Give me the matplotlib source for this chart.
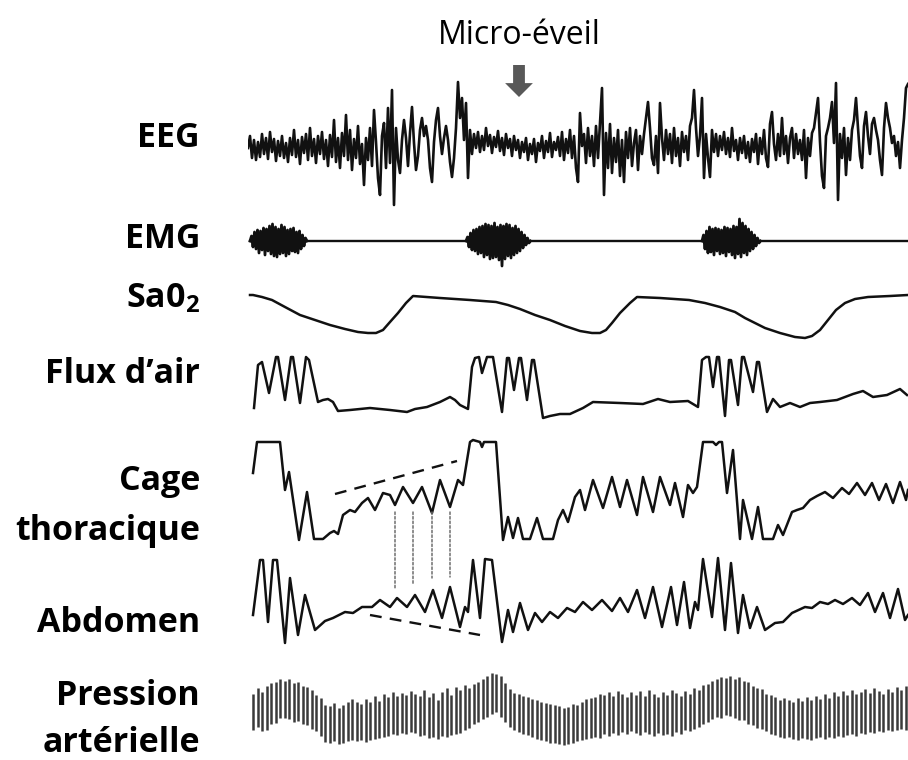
#!/usr/bin/env python3
# -*- coding: utf-8 -*-
"""
Polysomnographie : micro-eveil en fin d'apnee obstructive
Traces schematiques relevees sur la figure d'origine
"""

import numpy as np
import matplotlib
matplotlib.use("Agg")
import matplotlib.pyplot as plt
from matplotlib.patches import ConnectionPatch

# ---------------------------------------------------------------
# Donnees (temps en echantillons, amplitudes en unites arbitraires)
# ---------------------------------------------------------------

# EEG, un point tous les 2 echantillons
eeg = [0, 12, -10, 8, -12, 6, -9, 14, -6, 10,
       -11, 16, -4, 9, -13, 7, -8, 12, -10, 5,
       -14, 10, -7, 18, -9, 8, -16, 11, -5, 14,
       -12, 20, -8, 9, -15, 12, -6, 16, -11, 8,
       -18, 13,
       -9, 28, -14, 10, -20, 15, -8, 33, -12, 18, -22, 9, -10, 22, -16,
       4, -37, 10, -12, 20, -18, 38, 6, -30, -47, 12, 25, -20, 40, -15, 58, -57, 20, -12, -25,
       8, 28, 10, -18, 15, 41, 5, -22, -8, 18, 30, 12, 22, 8, -20, -34, 6, 28, 40, 12,
       -6, 10, 22, 8, -14, -29, -10, 20, 66, 30, 50, 8, 45, -30,
       18, -6, 14, 0, 16, -4, 12, -2, 20, 2,
       13, -5, 11, 1, 17, -3, 10, -7, 14, 0,
       9, -8, 12, -2, 8, -10, 6, -4, 10, -12,
       4, -6, 9, -14, 5, -3, 12, -10, 7, -4,
       15, -9, 6, -2, 11, -8,
       16, -12, 9, -5, 18, -10, 12, -20, -34, 35, 2, 14, -15, 20, -8, 12, -18, 22, -10, 25, 60, -47,
       15, -20, 24, -25, 10, -14, 18, -28, 8, -34, 16, -10, 20, -18, 5, 18, -22, 12, -6, 14,
       30, 46, 20, -10, -17, 12, -25, 45,
       10, -12, 18, -6, 14, -15, 20, -8, 10, -18, 16, -4, 12, -12, 22, 30, 58, 20, -8, 12,
       50, -30, 14, -10, -29, 18,
       -4, 14, -8, 12, -2, 16, -6, 10, -9, 20,
       -3, 8, -12, 10, -5, 12, -10, 6, -14, 9,
       -4, 14, -16, 10, -6, 18, -10, -19, 24,
       36, 4, -12, 14, -8, 30, -6, 12, -15, 10, 20, -10, 14, -6, 8,
       -12, 18, -30, 10, -8, 15, 20, 35, 50, 6, -28, -40, 12, 20, 30, 46, 5, 65, -52, 14,
       -10, 20, -27, 10, -12, 18, 28, 50, 20, -8, -20, 22, 36, 12, -6,
       24, 30, 18, 8, -12, -27, 20, 45, 30, 20, 5, 12, -8, 6, -20, 8, 30, 60, 64]

# EMG : trois bouffees d'activite sur une ligne de base plate
emg_debut = [2, 218, 454]
emg_bouffee1 = [0, 5, -6, 9, -8, 11, -12, 10, -9, 13, -14, 12, -10, 15, -13, 17, -15, 14, -16, 12,
                -13, 16, -12, 14, -15, 11, -13, 12, -10, 13, -11, 9, -12, 10, -8, 6, -5, 3, 0]
emg_bouffee2 = [0, 4, -6, 8, -9, 11, -10, 12, -13, 14, -12, 15, -16, 17, -14, 16, -18, 15, -17, 18,
                -16, 14, -19, 16, -25, 15, -18, 17, -15, 16, -17, 13, -14, 15, -12, 12, -10, 9, -7, 6,
                -4, 3, -2, 0]
emg_bouffee3 = [0, 6, -8, 10, -12, 14, -11, 12, -14, 13, -10, 12, -13, 11, -12, 14, -15, 13, -11, 12,
                -14, 15, -17, 14, -13, 22, -16, 18, -12, 15, -14, 12, -10, 9, -8, 6, -5, 3, -2, 0]

# Saturation
sao2_t = [2, 5, 14, 24, 37, 52, 67, 82, 97, 110, 120, 128, 135, 142, 150, 158, 165, 192, 222, 248,
          260, 272, 287, 302, 317, 332, 344, 352, 358, 364, 372, 382, 389, 412, 441, 457, 472, 487,
          497, 507, 517, 532, 547, 557, 564, 572, 580, 588, 597, 607, 620, 642, 660]
sao2 = [45, 45, 43, 40, 33, 25, 20, 15, 11, 8, 7, 7, 10, 18, 27, 37, 44, 42, 40, 38,
        35, 31, 25, 20, 14, 9, 7, 7, 10, 17, 27, 37, 43, 42, 40, 37, 33, 28,
        22, 17, 12, 7, 3, 2, 4, 10, 20, 30, 37, 41, 43, 44, 45]

# Flux d'air
flux_t = [6, 10, 14, 21, 28, 30, 37, 43, 45, 52, 58, 61, 70, 75, 80, 85, 90, 102, 122, 142,
          159, 167, 179, 192, 202, 207, 212, 220, 224, 227, 231, 234, 239, 245, 254, 259, 261, 266,
          271, 273, 279, 284, 286, 295, 302, 312, 322, 335, 345, 372, 395, 410, 422, 440, 450,
          454, 458, 461, 465, 469, 471, 477, 481, 483, 490, 494, 496, 505, 509, 511, 519, 525,
          532, 542, 552, 562, 572, 589, 605, 615, 625, 639, 652, 659]
flux = [12, 55, 58, 27, 63, 63, 20, 63, 63, 17, 63, 60, 18, 20, 21, 18, 9, 10, 12, 10,
        8, 11, 13, 18, 23, 20, 15, 11, 53, 62, 63, 47, 63, 63, 8, 62, 62, 30,
        62, 62, 20, 60, 60, 2, 4, 6, 6, 12, 18, 17, 16, 21, 18, 19, 13,
        60, 63, 63, 33, 63, 63, 4, 60, 60, 15, 63, 63, 28, 58, 58, 8, 21,
        13, 17, 13, 17, 18, 20, 26, 29, 23, 25, 31, 25]

# Cage thoracique
thorax_t = [5, 9, 32, 37, 41, 51, 59, 66, 75, 82, 86, 90, 95, 102, 107, 114, 120, 127, 135, 142,
            147, 155, 165, 174, 184, 192, 202, 210, 215, 222, 225, 232, 234, 236, 248, 255, 260,
            265, 270, 275, 282, 289, 295, 305, 310, 315, 320, 327, 332, 337, 345, 355, 364, 372,
            379, 389, 395, 405, 412, 422, 427, 435, 440, 445, 449, 455, 465, 468, 471, 474, 479,
            485, 492, 495, 504, 510, 515, 525, 530, 535, 544, 549, 555, 562, 569, 577, 585, 594,
            601, 609, 617, 624, 631, 638, 645, 652, 658, 660]
thorax = [67, 98, 98, 50, 68, 0, 48, 1, 1, 7, 9, 6, 25, 30, 28, 37, 42, 30, 47, 45,
          35, 53, 37, 53, 27, 60, 33, 60, 55, 98, 100, 98, 93, 98, 98, 0, 23,
          2, 22, 1, 1, 22, 1, 1, 20, 30, 18, 43, 50, 30, 60, 32, 63, 33,
          60, 25, 63, 28, 63, 35, 57, 23, 55, 47, 53, 98, 98, 95, 98, 98, 47,
          90, 1, 40, 1, 33, 1, 1, 15, 5, 28, 30, 32, 40, 44, 48, 42, 52,
          46, 57, 45, 57, 40, 56, 37, 58, 40, 50]

# Abdomen
abdomen_t = [5, 12, 15, 20, 25, 29, 37, 42, 50, 57, 67, 77, 85, 97, 105, 114, 124, 132, 142, 149,
             159, 167, 177, 185, 194, 202, 212, 217, 220, 225, 232, 237, 244, 254, 260, 265, 272,
             280, 287, 294, 302, 310, 319, 327, 335, 344, 354, 364, 372, 380, 389, 397, 405, 414,
             423, 429, 436, 442, 447, 450, 455, 464, 470, 477, 483, 490, 495, 502, 509, 517, 527,
             535, 544, 557, 564, 572, 580, 587, 595, 604, 612, 620, 627, 635, 642, 650, 657, 660]
abdomen = [30, 85, 85, 23, 85, 85, 2, 67, 10, 50, 15, 24, 27, 33, 32, 38, 38, 45, 38, 47,
           38, 50, 33, 55, 27, 58, 18, 38, 33, 85, 27, 86, 85, 3, 35, 13, 42,
           15, 32, 23, 33, 27, 37, 33, 43, 35, 45, 34, 47, 33, 55, 27, 58, 18,
           58, 20, 63, 17, 43, 35, 86, 28, 87, 15, 82, 12, 50, 17, 38, 15, 22,
           23, 32, 38, 37, 43, 41, 45, 41, 47, 40, 52, 33, 52, 27, 56, 25, 30]

# Enveloppes (tirets) et reperes d'opposition de phase (pointilles)
tirets_thorax_t = [87, 209]
tirets_thorax = [46, 79]
tirets_abdomen_t = [122, 232]
tirets_abdomen = [30, 10]
pointilles_t = [147, 165, 184, 202]
pointilles_thorax = [28, 28, 28, 28]
pointilles_abdomen = [56, 61, 67, 68]

# Pression arterielle : systolique / diastolique battement par battement
pas = [106, 112, 108, 114, 117, 118, 121, 119, 121, 117, 118, 114, 113, 110, 105, 102, 95, 94, 97, 92,
       95, 98, 101, 98, 96, 101, 98, 104, 99, 106, 103, 108, 104, 107, 105, 109, 106, 104, 110, 103,
       107, 100, 108, 112, 105, 113, 110, 115, 112, 116, 118, 121, 124, 127, 126, 124, 117, 111, 107, 106,
       104, 103, 101, 100, 98, 97, 96, 95, 94, 92, 93, 96, 95, 98, 101, 102, 103, 106, 105, 108,
       104, 109, 106, 103, 108, 105, 109, 104, 110, 106, 103, 108, 105, 110, 107, 104, 109, 106, 112, 110,
       115, 116, 119, 121, 123, 122, 124, 121, 123, 119, 118, 114, 112, 111, 106, 105, 103, 100, 102, 100,
       98, 102, 99, 103, 100, 104, 101, 106, 102, 108, 104, 109, 105, 110, 106, 108, 111, 107, 112, 109,
       106, 111, 108, 113, 110, 114]
pad = [70, 73, 69, 70, 76, 77, 82, 82, 81, 78, 79, 76, 75, 71, 69, 64, 58, 57, 59, 56,
       57, 59, 60, 59, 60, 58, 60, 61, 62, 63, 64, 66, 65, 67, 66, 68, 67, 64, 65, 62,
       63, 61, 64, 63, 65, 66, 67, 70, 72, 76, 78, 81, 83, 86, 88, 83, 78, 73, 70, 68,
       66, 65, 63, 61, 60, 59, 57, 57, 56, 55, 56, 57, 59, 60, 61, 62, 63, 62, 66, 64,
       67, 65, 68, 66, 69, 67, 65, 68, 66, 64, 67, 65, 66, 64, 68, 66, 70, 69, 71, 73,
       76, 78, 81, 83, 82, 85, 84, 82, 80, 80, 76, 75, 72, 71, 69, 66, 65, 63, 62, 63,
       61, 60, 62, 61, 60, 62, 63, 61, 63, 62, 64, 63, 65, 66, 64, 67, 66, 68, 67, 69,
       68, 70, 69, 70, 71, 70]

micro_eveil_t = 271

# ---------------------------------------------------------------
# Mise en page (pixels de la figure 908 x 760)
# ---------------------------------------------------------------
W, H = 908, 760
X0 = 248
NOIR = '#111111'

plt.rcParams['font.family'] = ['Open Sans', 'DejaVu Sans']
plt.rcParams['mathtext.fontset'] = 'custom'
plt.rcParams['mathtext.rm'] = 'Open Sans:bold'
plt.rcParams['mathtext.bf'] = 'Open Sans:bold'
plt.rcParams['mathtext.it'] = 'Open Sans:bold'

fig = plt.figure(figsize=(W / 100, H / 100), dpi=100)
fig.patch.set_facecolor('white')


def voie(haut, bas, base):
    """Axe d'une voie : bande verticale [haut, bas] en pixels, 1 unite = 1 pixel"""
    ax = fig.add_axes([X0 / W, 1 - bas / H, (W - X0) / W, (bas - haut) / H])
    ax.set_xlim(0, 660)
    ax.set_ylim(base - bas, base - haut)
    ax.axis('off')
    return ax


def etiquette(texte, y_base):
    fig.text(200 / W, 1 - y_base / H, texte, ha='right', va='baseline',
             fontsize=24.5, fontweight='bold', color='black')


# EEG
ax_eeg = voie(70, 220, 148)
ax_eeg.plot(np.arange(len(eeg)) * 2, eeg, color=NOIR, lw=1.9)

# fleche du micro-eveil
ax_eeg.annotate('', xy=(micro_eveil_t, H - 97), xycoords=('data', 'figure pixels'),
                xytext=(micro_eveil_t, H - 65), textcoords=('data', 'figure pixels'),
                arrowprops=dict(arrowstyle='simple,head_length=1.0,head_width=2.0,tail_width=0.85',
                                mutation_scale=10, fc='#585858', ec='none',
                                shrinkA=0, shrinkB=0))
fig.text((X0 + micro_eveil_t) / W, 1 - 44 / H, 'Micro-éveil', ha='center', va='baseline',
         fontsize=23, color='black')

# EMG
ax_emg = voie(215, 268, 241)
ax_emg.plot([emg_debut[0], 660], [0, 0], color=NOIR, lw=1.7)
for debut, bouffee in zip(emg_debut, [emg_bouffee1, emg_bouffee2, emg_bouffee3]):
    ax_emg.plot(debut + np.arange(len(bouffee)) * 1.5, bouffee, color=NOIR, lw=2.0)

# SaO2
ax_sat = voie(285, 345, 340)
ax_sat.plot(sao2_t, sao2, color=NOIR, lw=1.8, solid_joinstyle='round')

# Flux d'air
ax_flux = voie(350, 425, 420)
ax_flux.plot(flux_t, flux, color=NOIR, lw=1.8, solid_joinstyle='round')

# Cage thoracique
ax_tho = voie(432, 545, 540)
ax_tho.plot(thorax_t, thorax, color=NOIR, lw=1.8, solid_joinstyle='round')
ax_tho.plot(tirets_thorax_t, tirets_thorax, color=NOIR, lw=1.7, dashes=(5, 3.5))

# Abdomen
ax_abd = voie(550, 650, 645)
ax_abd.plot(abdomen_t, abdomen, color=NOIR, lw=1.8, solid_joinstyle='round')
ax_abd.plot(tirets_abdomen_t, tirets_abdomen, color=NOIR, lw=1.7, dashes=(5, 3.5))

# pointilles verticaux entre thorax et abdomen
for t, v_haut, v_bas in zip(pointilles_t, pointilles_thorax, pointilles_abdomen):
    con = ConnectionPatch(xyA=(t, v_haut), coordsA=ax_tho.transData,
                          xyB=(t, v_bas), coordsB=ax_abd.transData,
                          color='#6e6e6e', lw=1.1, linestyle=(0, (1.6, 1.4)))
    fig.add_artist(con)

# Pression arterielle
ax_pa = voie(665, 755, 800)
ax_pa.vlines(5 + np.arange(len(pas)) * 4.5, pad, pas, colors='#3a3a3a', lw=1.8)

# Etiquettes des voies
etiquette('EEG', 147)
etiquette('EMG', 248)
etiquette('Sa0$_{2}$', 307)
etiquette('Flux d’air', 383)
etiquette('Cage', 490)
etiquette('thoracique', 540)
etiquette('Abdomen', 632)
etiquette('Pression', 705)
etiquette('artérielle', 752)

fig.savefig('out.png', dpi=100, facecolor='white')
